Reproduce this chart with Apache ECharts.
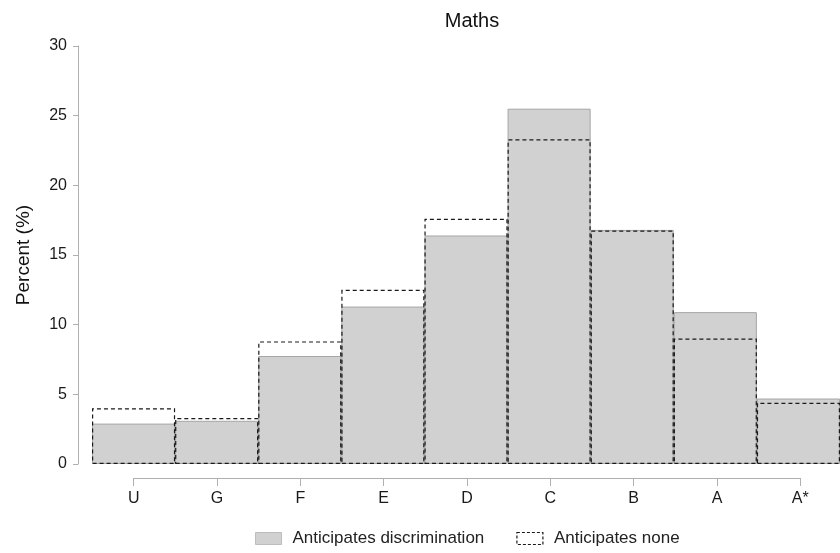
<!DOCTYPE html>
<html>
<head>
<meta charset="UTF-8">
<title>Maths</title>
<style>
  *{padding:0;margin:0;}
  body{background:#fff;}
  #chart{width:840px;height:553px;}
</style>
</head>
<body>
<div id="chart"></div>
<script src="https://cdn.jsdelivr.net/npm/echarts@6/dist/echarts.min.js"></script>
<script>
var grades = ["U", "G", "F", "E", "D", "C", "B", "A", "A*"];
var discrimination = [2.9, 3.1, 7.75, 11.3, 16.4, 25.5, 16.8, 10.9, 4.7];
var none = [4.0, 3.3, 8.8, 12.5, 17.6, 23.3, 16.75, 9.0, 4.4];

var font = "Liberation Sans, Arial, sans-serif";
var chart = echarts.init(document.getElementById("chart"));

chart.setOption({
  animation: false,
  textStyle: {fontFamily: font},
  title: {
    text: "Maths",
    left: 467,
    textAlign: "center",
    top: 6,
    textStyle: {fontSize: 20, fontWeight: "normal", color: "#111"}
  },
  legend: {
    left: 250,
    top: 525,
    itemWidth: 26,
    itemHeight: 12,
    itemGap: 32,
    textStyle: {fontSize: 17, color: "#222", padding: [0, 0, 0, 6]},
    data: [
      {
        name: "Anticipates discrimination",
        icon: "rect",
        itemStyle: {color: "#d1d1d1", borderColor: "#bdbdbd", borderWidth: 1}
      },
      {
        name: "Anticipates none",
        icon: "rect",
        itemStyle: {color: "rgba(0,0,0,0)", borderColor: "#1a1a1a", borderWidth: 1.2, borderType: [3, 2]}
      }
    ]
  },
  grid: [
    {left: 92, right: -2, top: 46, bottom: 89},
    {left: 133.7, right: 39.7, top: 46, bottom: 89}
  ],
  xAxis: [
    {
      type: "category",
      data: grades,
      gridIndex: 0,
      boundaryGap: true,
      show: false
    },
    {
      type: "category",
      data: grades,
      gridIndex: 1,
      boundaryGap: false,
      offset: 14,
      axisLine: {onZero: false, lineStyle: {color: "#b0b0b0", width: 1}},
      axisTick: {length: 8, lineStyle: {color: "#b0b0b0"}},
      axisLabel: {fontSize: 16, color: "#1a1a1a", margin: 13},
      splitLine: {show: false}
    }
  ],
  yAxis: [
    {
      type: "value",
      gridIndex: 0,
      min: 0,
      max: 30,
      interval: 5,
      offset: 14,
      name: "Percent (%)",
      nameLocation: "middle",
      nameGap: 45,
      nameTextStyle: {fontSize: 19, color: "#111"},
      axisLine: {show: true, lineStyle: {color: "#b0b0b0", width: 1}},
      axisTick: {show: true, length: 5, lineStyle: {color: "#b0b0b0"}},
      axisLabel: {fontSize: 16, color: "#1a1a1a", margin: 11},
      splitLine: {show: false}
    },
    {
      type: "value",
      gridIndex: 1,
      min: 0,
      max: 30,
      show: false
    }
  ],
  series: [
    {
      name: "Anticipates discrimination",
      type: "bar",
      xAxisIndex: 0,
      yAxisIndex: 0,
      barGap: "-100%",
      barCategoryGap: 0,
      itemStyle: {color: "#d1d1d1", borderColor: "#a6a6a6", borderWidth: 1},
      data: discrimination
    },
    {
      name: "Anticipates none",
      type: "bar",
      xAxisIndex: 0,
      yAxisIndex: 0,
      barGap: "-100%",
      barCategoryGap: 0,
      z: 3,
      itemStyle: {
        color: "rgba(0,0,0,0)",
        borderColor: "#1a1a1a",
        borderWidth: 1.2,
        borderType: [4, 3]
      },
      data: none
    }
  ]
});
</script>
</body>
</html>
